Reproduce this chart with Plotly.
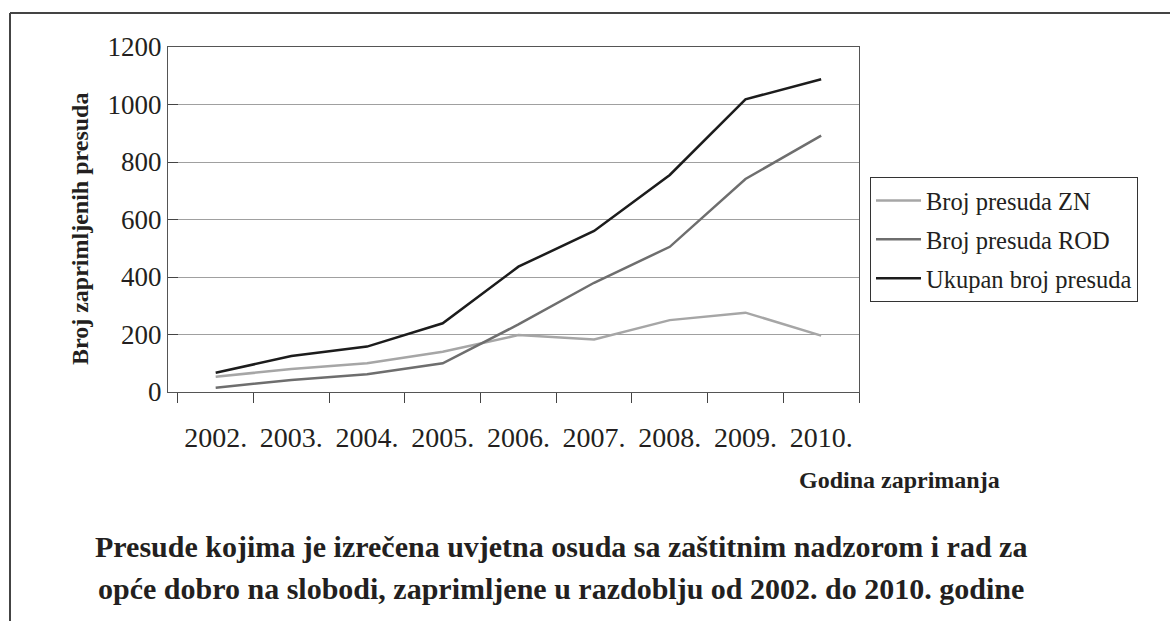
import plotly.graph_objects as go

years = ["2002.", "2003.", "2004.", "2005.", "2006.", "2007.", "2008.", "2009.", "2010."]
zn = [53, 80, 100, 140, 198, 183, 250, 276, 196]
rod = [15, 42, 62, 100, 235, 380, 505, 741, 892]
ukupno = [67, 125, 158, 239, 436, 560, 755, 1018, 1088]

series_names = ["Broj presuda ZN", "Broj presuda ROD", "Ukupan broj presuda"]
series_colors = ["#a6a6a6", "#6e6e6e", "#1c1c1c"]

W, H = 1170, 621
L, R, T, B = 168, 859, 47, 392
FONT = "Liberation Serif"
TXT = "#231f20"

def px(x):
    return (x - L) / (R - L)

def py(y):
    return (B - y) / (B - T)

fig = go.Figure()
for name, vals, col in zip(series_names, [zn, rod, ukupno], series_colors):
    fig.add_trace(go.Scatter(x=years, y=vals, name=name, mode="lines",
                             line=dict(color=col, width=2.5), legendgroup=name))

fig.update_layout(
    width=W, height=H,
    margin=dict(l=L, r=W - R, t=T, b=H - B),
    paper_bgcolor="white", plot_bgcolor="white",
    font=dict(family=FONT, color=TXT),
    showlegend=True,
    legend=dict(x=px(870), y=py(177), xanchor="left", yanchor="top",
                bordercolor="#333333", borderwidth=1, bgcolor="white",
                font=dict(family=FONT, size=24.5, color=TXT),
                tracegroupgap=4, itemwidth=45),
    xaxis=dict(type="category", range=[-0.63, 8.5], tickson="boundaries",
               ticks="outside", ticklen=10, tickcolor="#444444",
               showline=True, linecolor="#555555", linewidth=1, mirror=True,
               showgrid=False, tickfont=dict(family=FONT, size=28, color=TXT),
               ticklabelstandoff=20),
    yaxis=dict(range=[0, 1200], dtick=200, ticks="inside", ticklen=10,
               tickcolor="#444444", showline=True, linecolor="#555555",
               linewidth=1, mirror=True, showgrid=True, gridcolor="#a0a0a0",
               gridwidth=1, zeroline=False,
               tickfont=dict(family=FONT, size=27, color=TXT)),
)

def note(text, x, y, size, angle=0):
    fig.add_annotation(text=text, xref="paper", yref="paper", x=px(x), y=py(y),
                       xanchor="center", yanchor="middle", textangle=angle,
                       showarrow=False, font=dict(family=FONT, size=size, color=TXT))

note("<b>Broj zaprimljenih presuda</b>", 80, 229, 24, -90)
note("<b>Godina zaprimanja</b>", 899, 480, 24)
note("<b>Presude kojima je izrečena uvjetna osuda sa zaštitnim nadzorom i rad za</b>", 561, 546, 30)
note("<b>opće dobro na slobodi, zaprimljene u razdoblju od 2002. do 2010. godine</b>", 561, 588, 30)

# outer frame (top and left edges)
fig.add_shape(type="line", xref="paper", yref="paper", x0=px(10), x1=px(1175),
              y0=py(13), y1=py(13), line=dict(color="#444444", width=2))
fig.add_shape(type="line", xref="paper", yref="paper", x0=px(10), x1=px(10),
              y0=py(13), y1=py(630), line=dict(color="#444444", width=2))

fig.write_html("out.html", config={"displayModeBar": False},
               post_script="document.body.style.margin='0';document.body.style.overflow='hidden';")
